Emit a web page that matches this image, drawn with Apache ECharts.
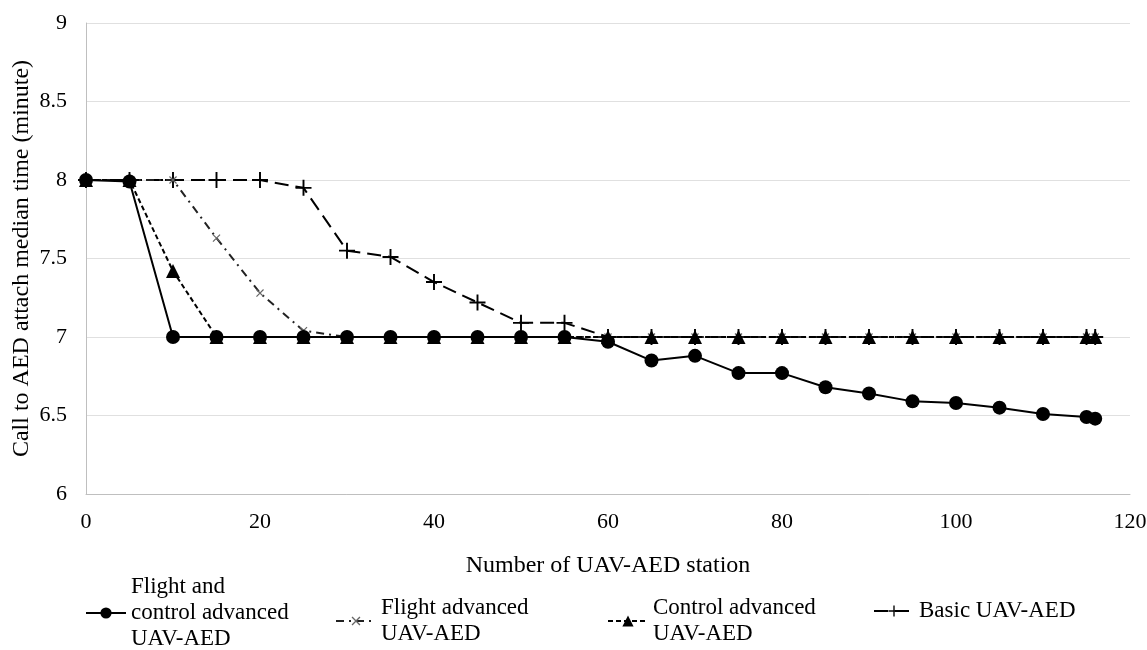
<!DOCTYPE html>
<html><head><meta charset="utf-8">
<script src="https://cdn.jsdelivr.net/npm/echarts@6/dist/echarts.min.js"></script>
<style>html,body{margin:0;padding:0;background:#fff}#c{width:1147px;height:650px}</style>
</head><body><div id="c"></div>
<script>
const xs = [0,5,10,15,20,25,30,35,40,45,50,55,60,65,70,75,80,85,90,95,100,105,110,115,116];
const flightControl = [8,7.99,7,7,7,7,7,7,7,7,7,7,6.97,6.85,6.88,6.77,6.77,6.68,6.64,6.59,6.58,6.55,6.51,6.49,6.48];
const flightAdv = [8,8,8,7.63,7.28,7.04,7,7,7,7,7,7,7,7,7,7,7,7,7,7,7,7,7,7,7];
const controlAdv = [8,8,7.42,7,7,7,7,7,7,7,7,7,7,7,7,7,7,7,7,7,7,7,7,7,7];
const basic = [8,8,8,8,8,7.95,7.55,7.51,7.35,7.22,7.09,7.09,7,7,7,7,7,7,7,7,7,7,7,7,7];
const names = ['Flight and\ncontrol advanced\nUAV-AED','Flight advanced\nUAV-AED','Control advanced\nUAV-AED','Basic UAV-AED'];
const xTitle = 'Number of UAV-AED station';
const yTitle = 'Call to AED attach median time (minute)';

const font = 'Liberation Serif';
const plusPath = 'path://M4.4,0h1.2v10h-1.2z M0,4.4h10v1.2h-10z';
const pairs = a => xs.map((x,i)=>[x,a[i]]);
const chart = echarts.init(document.getElementById('c'));
function leg(name,left,top){
  return {data:[name],left:left,top:top,orient:'horizontal',itemWidth:40,itemHeight:14,
    textStyle:{fontFamily:font,fontSize:23,color:'#000',lineHeight:26},selectedMode:false};
}
chart.setOption({
  animation:false,
  grid:{left:86,right:17,top:23,bottom:156,containLabel:false,outerBoundsMode:'none'},
  xAxis:{type:'value',min:0,max:120,interval:20,
    axisLine:{show:true,lineStyle:{color:'#bfbfbf'}},axisTick:{show:false},splitLine:{show:false},
    axisLabel:{fontFamily:font,fontSize:22,color:'#000',margin:17},
    name:xTitle,nameLocation:'middle',nameGap:60,nameTextStyle:{fontFamily:font,fontSize:24,color:'#000'}},
  yAxis:{type:'value',min:6,max:9,interval:0.5,
    axisLine:{show:true,lineStyle:{color:'#bfbfbf'}},axisTick:{show:false},
    splitLine:{lineStyle:{color:'#e0e0e0'}},
    axisLabel:{fontFamily:font,fontSize:22,color:'#000',margin:19},
    name:yTitle,nameLocation:'middle',nameGap:52,nameMoveOverlap:false,nameTextStyle:{fontFamily:font,fontSize:24,color:'#000'}},
  legend:[leg(names[0],80,569),leg(names[1],330,590),leg(names[2],602,590),leg(names[3],868,593)],
  series:[
    {name:names[3],type:'line',data:pairs(basic),symbol:plusPath,symbolSize:16,z:2,
      lineStyle:{color:'#000',width:2,type:[14,7]},itemStyle:{color:'#000'}},
    {name:names[1],type:'line',data:pairs(flightAdv),symbol:plusPath,symbolRotate:45,symbolSize:10,z:3,
      lineStyle:{color:'#222',width:2,type:[8,5,2,5]},itemStyle:{color:'#666'}},
    {name:names[2],type:'line',data:pairs(controlAdv),symbol:'triangle',symbolSize:14,z:4,
      lineStyle:{color:'#000',width:2,type:[5,3]},itemStyle:{color:'#000'}},
    {name:names[0],type:'line',data:pairs(flightControl),symbol:'circle',symbolSize:14,z:5,
      lineStyle:{color:'#000',width:2},itemStyle:{color:'#000'}}
  ]
});
</script></body></html>
